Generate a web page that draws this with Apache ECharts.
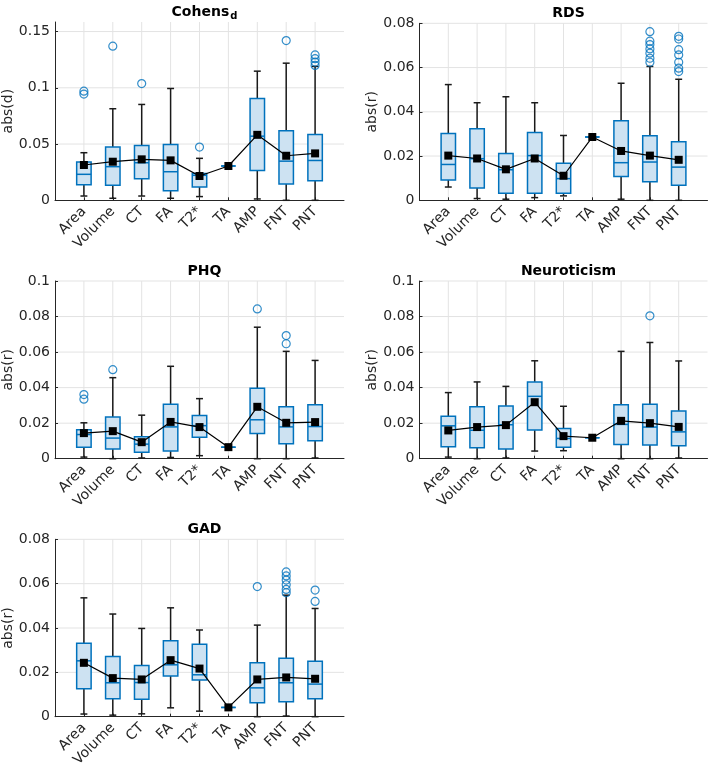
<!DOCTYPE html>
<html>
<head>
<meta charset="utf-8">
<script src="https://cdn.jsdelivr.net/npm/echarts@6/dist/echarts.min.js"></script>
<style>html,body{margin:0;padding:0;background:#fff}#c{width:709px;height:766px}</style>
</head>
<body>
<div id="c"></div>
<script>
const categories = ['Area','Volume','CT','FA','T2*','TA','AMP','FNT','PNT'];

// Cohens d
const cohensLow  = [0.0038,0.0018,0.0038,0.0018,0.0033,0.0305,0.0012,0.0000,0.0000];
const cohensQ1   = [0.0139,0.0133,0.0192,0.0086,0.0118,0.0305,0.0265,0.0146,0.0173];
const cohensMed  = [0.0231,0.0299,0.0334,0.0254,0.0222,0.0305,0.0570,0.0348,0.0354];
const cohensQ3   = [0.0340,0.0473,0.0488,0.0497,0.0238,0.0305,0.0905,0.0619,0.0586];
const cohensHigh = [0.0423,0.0814,0.0852,0.0994,0.0373,0.0305,0.1148,0.1219,0.1190];
const cohensMean = [0.0314,0.0343,0.0364,0.0355,0.0216,0.0305,0.0582,0.0396,0.0417];
const cohensOutliers = [[1,0.0970],[1,0.0944],[2,0.1370],[3,0.1038],[5,0.0473],[8,0.1420],
  [9,0.1586],[9,0.1292],[9,0.1259],[9,0.1229],[9,0.1199]];
const cohensTicks = [0,0.05,0.1,0.15];

// RDS
const rdsLow  = [0.0060,0.0008,0.0005,0.0012,0.0020,0.0286,0.0005,0.0000,0.0000];
const rdsQ1   = [0.0092,0.0056,0.0032,0.0032,0.0032,0.0286,0.0108,0.0084,0.0068];
const rdsMed  = [0.0162,0.0188,0.0138,0.0202,0.0098,0.0286,0.0170,0.0173,0.0150];
const rdsQ3   = [0.0302,0.0323,0.0211,0.0307,0.0167,0.0286,0.0359,0.0292,0.0265];
const rdsHigh = [0.0523,0.0441,0.0468,0.0441,0.0293,0.0286,0.0529,0.0605,0.0547];
const rdsMean = [0.0202,0.0189,0.0140,0.0189,0.0111,0.0286,0.0223,0.0202,0.0183];
const rdsOutliers = [[8,0.0762],[8,0.0719],[8,0.0704],[8,0.0684],[8,0.0665],[8,0.0642],[8,0.0624],
  [9,0.0741],[9,0.0729],[9,0.0681],[9,0.0657],[9,0.0624],[9,0.0597],[9,0.0582]];
const rdsTicks = [0,0.02,0.04,0.06,0.08];

// PHQ
const phqLow  = [0.0009,0.0000,0.0004,0.0007,0.0017,0.0065,0.0000,0.0000,0.0004];
const phqQ1   = [0.0064,0.0054,0.0036,0.0043,0.0121,0.0065,0.0142,0.0084,0.0101];
const phqMed  = [0.0136,0.0116,0.0082,0.0179,0.0186,0.0065,0.0219,0.0179,0.0181];
const phqQ3   = [0.0163,0.0234,0.0123,0.0307,0.0243,0.0065,0.0396,0.0292,0.0303];
const phqHigh = [0.0202,0.0456,0.0245,0.0520,0.0338,0.0065,0.0740,0.0604,0.0553];
const phqMean = [0.0144,0.0155,0.0093,0.0207,0.0178,0.0065,0.0292,0.0202,0.0206];
const phqOutliers = [[1,0.0361],[1,0.0335],[2,0.0501],[7,0.0843],[8,0.0693],[8,0.0647]];
const phqTicks = [0,0.02,0.04,0.06,0.08,0.1];

// Neuroticism
const neuroLow  = [0.0009,0.0000,0.0004,0.0043,0.0045,0.0118,0.0000,0.0000,0.0004];
const neuroQ1   = [0.0067,0.0062,0.0054,0.0161,0.0065,0.0118,0.0080,0.0077,0.0073];
const neuroMed  = [0.0185,0.0160,0.0191,0.0351,0.0114,0.0118,0.0193,0.0178,0.0151];
const neuroQ3   = [0.0239,0.0292,0.0297,0.0432,0.0170,0.0118,0.0303,0.0307,0.0269];
const neuroHigh = [0.0372,0.0432,0.0407,0.0551,0.0295,0.0118,0.0604,0.0654,0.0550];
const neuroMean = [0.0159,0.0178,0.0189,0.0318,0.0127,0.0118,0.0213,0.0200,0.0179];
const neuroOutliers = [[8,0.0804]];
const neuroTicks = [0,0.02,0.04,0.06,0.08,0.1];

// GAD
const gadLow  = [0.0012,0.0007,0.0013,0.0040,0.0025,0.0042,0.0000,0.0003,0.0000];
const gadQ1   = [0.0126,0.0081,0.0079,0.0184,0.0165,0.0042,0.0063,0.0067,0.0081];
const gadMed  = [0.0252,0.0153,0.0154,0.0234,0.0189,0.0042,0.0130,0.0153,0.0147];
const gadQ3   = [0.0331,0.0272,0.0231,0.0342,0.0327,0.0042,0.0243,0.0264,0.0250];
const gadHigh = [0.0536,0.0463,0.0398,0.0491,0.0391,0.0042,0.0413,0.0548,0.0488];
const gadMean = [0.0243,0.0174,0.0168,0.0255,0.0217,0.0042,0.0168,0.0177,0.0171];
const gadOutliers = [[7,0.0587],[8,0.0653],[8,0.0635],[8,0.0616],[8,0.0595],[8,0.0574],[8,0.0559],
  [9,0.0571],[9,0.0520]];
const gadTicks = [0,0.02,0.04,0.06,0.08];

const panels = [
  {title:'{a|Cohens}{b|d}', yName:'abs(d)', yMax:0.1585, ticks:cohensTicks,
   low:cohensLow,q1:cohensQ1,med:cohensMed,q3:cohensQ3,high:cohensHigh,mean:cohensMean,out:cohensOutliers,
   grid:{left:55,top:22,width:289,height:178.3}},
  {title:'RDS', yName:'abs(r)', yMax:0.08, ticks:rdsTicks,
   low:rdsLow,q1:rdsQ1,med:rdsMed,q3:rdsQ3,high:rdsHigh,mean:rdsMean,out:rdsOutliers,
   grid:{left:419.5,top:23.3,width:288,height:177}},
  {title:'PHQ', yName:'abs(r)', yMax:0.1, ticks:phqTicks,
   low:phqLow,q1:phqQ1,med:phqMed,q3:phqQ3,high:phqHigh,mean:phqMean,out:phqOutliers,
   grid:{left:55,top:281,width:289,height:177.7}},
  {title:'Neuroticism', yName:'abs(r)', yMax:0.1, ticks:neuroTicks,
   low:neuroLow,q1:neuroQ1,med:neuroMed,q3:neuroQ3,high:neuroHigh,mean:neuroMean,out:neuroOutliers,
   grid:{left:419.5,top:281,width:288,height:177.7}},
  {title:'GAD', yName:'abs(r)', yMax:0.08, ticks:gadTicks,
   low:gadLow,q1:gadQ1,med:gadMed,q3:gadQ3,high:gadHigh,mean:gadMean,out:gadOutliers,
   grid:{left:55,top:539.3,width:289,height:177.4}}
];

const FONT = 'DejaVu Sans';
const AX = '#262626';
const BLUE = '#0072BD';
const catIdx = categories.map((c,i)=>i+1);

const option = {animation:false, backgroundColor:'#fff', title:[], grid:[], xAxis:[], yAxis:[], series:[]};

panels.forEach((p, k) => {
  const g = p.grid;
  option.grid.push({left:g.left, top:g.top, width:g.width, height:g.height, containLabel:false, outerBoundsMode:'none'});
  option.title.push({
    text:p.title, left:g.left + g.width/2, top:g.top - 22, textAlign:'center',
    textStyle:{fontFamily:FONT, fontSize:14, fontWeight:'bold', color:'#000',
      rich:{a:{fontFamily:FONT,fontSize:14,fontWeight:'bold',color:'#000',lineHeight:16,verticalAlign:'top'},
            b:{fontFamily:FONT,fontSize:10,fontWeight:'bold',color:'#000',lineHeight:12,verticalAlign:'bottom',padding:[10,0,0,1]}}}
  });
  option.xAxis.push({
    type:'value', gridIndex:k, min:0, max:10, interval:1,
    axisLine:{show:true, onZero:false, lineStyle:{color:AX, width:1}},
    axisTick:{show:true, inside:true, length:3, customValues:catIdx, lineStyle:{color:AX}},
    axisLabel:{customValues:catIdx, formatter:v=>categories[Math.round(v)-1]||'', rotate:45, margin:9,
      fontFamily:FONT, fontSize:14, color:AX},
    splitLine:{show:false}
  });
  option.yAxis.push({
    type:'value', gridIndex:k, min:0, max:p.yMax,
    name:p.yName, nameLocation:'middle', nameGap:38,
    nameTextStyle:{fontFamily:FONT, fontSize:14, color:AX},
    axisLine:{show:true, lineStyle:{color:AX, width:1}},
    axisTick:{show:true, inside:true, length:3, customValues:p.ticks, lineStyle:{color:AX}},
    axisLabel:{customValues:p.ticks, formatter:v=>String(+v.toFixed(4)), margin:5, fontFamily:FONT, fontSize:14, color:AX},
    splitLine:{show:false}
  });
  // grid lines
  option.series.push({
    type:'custom', xAxisIndex:k, yAxisIndex:k, silent:true, z:0,
    data:[[0,0]], encode:{x:0,y:1},
    renderItem:(params, api) => {
      const children = [];
      catIdx.forEach(c => {
        const a = api.coord([c,0]), b = api.coord([c,p.yMax]);
        children.push({type:'line', shape:{x1:a[0],y1:a[1],x2:b[0],y2:b[1]}, style:{stroke:'#e3e3e3', lineWidth:1}});
      });
      p.ticks.forEach(t => {
        if (t === 0) return;
        const a = api.coord([0,t]), b = api.coord([10,t]);
        children.push({type:'line', shape:{x1:a[0],y1:a[1],x2:b[0],y2:b[1]}, style:{stroke:'#e3e3e3', lineWidth:1}});
      });
      return {type:'group', children};
    }
  });
  // boxes
  option.series.push({
    type:'custom', xAxisIndex:k, yAxisIndex:k, silent:true, z:2,
    data:categories.map((c,i)=>[i+1, p.low[i], p.q1[i], p.med[i], p.q3[i], p.high[i]]),
    encode:{x:0, y:[1,2,3,4,5]},
    renderItem:(params, api) => {
      const x = api.value(0), lo = api.value(1), q1 = api.value(2), md = api.value(3), q3 = api.value(4), hi = api.value(5);
      const hw = 0.25, cw = 0.12;
      const L = (x1,y1,x2,y2,col,w) => {
        const a = api.coord([x1,y1]), b = api.coord([x2,y2]);
        return {type:'line', shape:{x1:a[0],y1:a[1],x2:b[0],y2:b[1]}, style:{stroke:col, lineWidth:w}};
      };
      const a = api.coord([x-hw,q3]), b = api.coord([x+hw,q1]);
      return {type:'group', children:[
        L(x,q3,x,hi,'#1a1a1a',1.5), L(x,lo,x,q1,'#1a1a1a',1.5),
        L(x-cw,hi,x+cw,hi,'#1a1a1a',1.5), L(x-cw,lo,x+cw,lo,'#1a1a1a',1.5),
        {type:'rect', shape:{x:a[0],y:a[1],width:b[0]-a[0],height:b[1]-a[1]},
          style:{fill:'#cde2f2', stroke:BLUE, lineWidth:1.5}},
        L(x-hw,md,x+hw,md,BLUE,1.5)
      ]};
    }
  });
  // outliers
  option.series.push({
    type:'scatter', xAxisIndex:k, yAxisIndex:k, silent:true, z:3,
    data:p.out, symbol:'circle', symbolSize:8,
    itemStyle:{color:'rgba(0,0,0,0)', borderColor:BLUE, borderWidth:1.2}
  });
  // means
  option.series.push({
    type:'line', xAxisIndex:k, yAxisIndex:k, silent:true, z:4,
    data:p.mean.map((m,i)=>[i+1,m]), symbol:'rect', symbolSize:8,
    itemStyle:{color:'#000'}, lineStyle:{color:'#000', width:1.2}
  });
});

const chart = echarts.init(document.getElementById('c'), null, {renderer:'canvas'});
chart.setOption(option);
</script>
</body>
</html>
